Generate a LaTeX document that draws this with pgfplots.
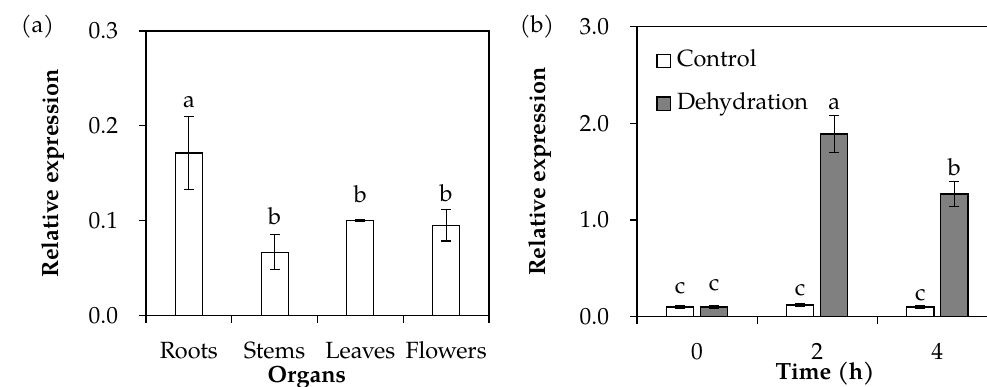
\documentclass[border=0pt]{standalone}
\usepackage{fontspec}
\setmainfont{TeX Gyre Pagella}
\usepackage{pgfplots}
\pgfplotsset{compat=1.18}
\definecolor{barGray}{HTML}{808080}
\pgfplotstableread{
x y e
0 0.1714 0.0385
1 0.0668 0.0185
2 0.1005 0.0010
3 0.0953 0.0165
}\organs
\pgfplotstableread{
x y e
0 0.100 0.012
1 0.121 0.015
2 0.100 0.010
}\control
\pgfplotstableread{
x y e
0 0.100 0.012
1 1.889 0.190
2 1.269 0.132
}\dehyd
\pgfplotsset{
  panel/.style={
    scale only axis,
    axis line style={line width=0.65pt},
    tick align=outside,
    tick pos=left,
    major tick length=3.85pt,
    minor tick length=3.85pt,
    every tick/.append style={black, line width=0.65pt},
    major x tick style={draw=none},
    ymin=0,
    /pgf/number format/assume math mode=true,
    yticklabel style={/pgf/number format/fixed, /pgf/number format/fixed zerofill,
      /pgf/number format/precision=1, anchor=east, inner sep=0pt, xshift=-11.35pt},
    xticklabel style={anchor=base, inner sep=0pt, yshift=-19.55pt},
    ylabel={\bfseries Relative expression},
  },
  errs/.style={/pgfplots/error bars/y dir=both, /pgfplots/error bars/y explicit,
    /pgfplots/error bars/error bar style={line width=0.65pt, black},
    /pgfplots/error bars/error mark options={rotate=90, mark size=2.75pt, line width=0.65pt, black}},
}
\begin{document}
\fontsize{12.9}{15}\selectfont
\begin{tikzpicture}
\begin{axis}[panel,
  at={(80.3pt,39.2pt)}, anchor=south west,
  width=188.65pt, height=156.6pt,
  xmin=-0.5, xmax=3.5, ymax=0.3,
  ytick={0,0.1,0.2,0.3},
  xtick={0,1,2,3}, xticklabels={Roots,Stems,Leaves,Flowers},
  minor xtick={-0.5,0.5,1.5,2.5,3.5},
  every axis y label/.style={at={(axis description cs:-0.271,0.5)}, rotate=90, anchor=center},
  every axis x label/.style={at={(axis description cs:0.469,0)}, anchor=base, inner sep=0pt, yshift=-36.5pt},
  xlabel={\bfseries Organs},
  ybar, bar width=14.85pt,
]
\addplot[fill=white, draw=black, line width=0.65pt, errs] table[x=x, y=y, y error=e] {\organs};
\node[anchor=base] at (axis cs:0,0.2196) {a};
\node[anchor=base] at (axis cs:1,0.0956) {b};
\node[anchor=base] at (axis cs:2,0.119) {b};
\node[anchor=base] at (axis cs:3,0.120) {b};
\end{axis}
\node[anchor=base west] at (7pt,195.1pt) {(a)};
\begin{axis}[panel,
  at={(350.35pt,38.7pt)}, anchor=south west,
  width=198.2pt, height=159.5pt,
  xmin=-0.5, xmax=2.5, ymax=3,
  ytick={0,1,2,3},
  xtick={0,1,2}, xticklabels={0,2,4},
  minor xtick={-0.5,0.5,1.5,2.5},
  every axis y label/.style={at={(axis description cs:-0.269,0.5)}, rotate=90, anchor=center},
  every axis x label/.style={at={(axis description cs:0.522,0)}, anchor=base, inner sep=0pt, yshift=-34.6pt},
  xlabel={\bfseries Time (h)},
  ybar=3.7pt, bar width=15pt,
  legend style={draw=none, fill=none, at={(axis description cs:0.0527,0.921)}, anchor=north west,
    inner sep=0pt, row sep=12pt, column sep=3.3pt, nodes={inner sep=0pt, anchor=base west}},
  legend cell align=left,
]
\addplot[fill=white, draw=black, line width=0.65pt,
  legend image code/.code={\draw[fill=white, draw=black, line width=0.65pt] (0pt,-0.5pt) rectangle (7.4pt,6.8pt);}, errs]
  table[x=x, y=y, y error=e] {\control};
\addplot[fill=barGray, draw=black, line width=0.65pt,
  legend image code/.code={\draw[fill=barGray, draw=black, line width=0.65pt] (0pt,-0.5pt) rectangle (7.4pt,6.8pt);}, errs]
  table[x=x, y=y, y error=e] {\dehyd};
\legend{Control,Dehydration}
\node[anchor=base] at (axis cs:-0.1417,0.242) {c};
\node[anchor=base] at (axis cs:0.1417,0.266) {c};
\node[anchor=base] at (axis cs:0.8583,0.214) {c};
\node[anchor=base] at (axis cs:1.1417,2.138) {a};
\node[anchor=base] at (axis cs:1.8583,0.162) {c};
\node[anchor=base] at (axis cs:2.1417,1.455) {b};
\end{axis}
\node[anchor=base west] at (281.4pt,195.1pt) {(b)};
\pgfresetboundingbox
\path[use as bounding box] (0pt,0pt) rectangle (542.85pt,212.85pt);
\end{tikzpicture}
\end{document}
